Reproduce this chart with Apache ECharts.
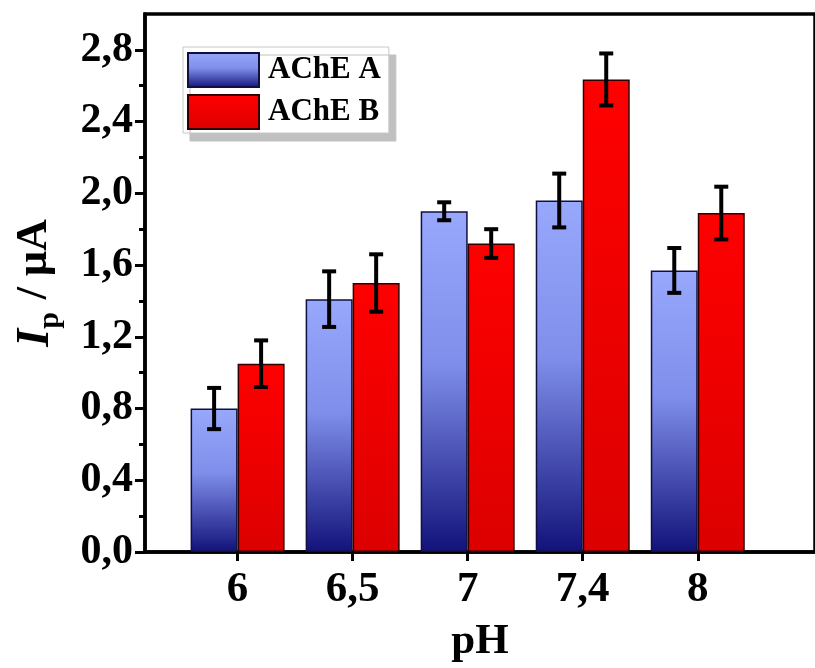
<!DOCTYPE html>
<html><head><meta charset="utf-8">
<script src="https://cdn.jsdelivr.net/npm/echarts@6/dist/echarts.min.js"></script>
<style>html,body{margin:0;padding:0;background:#fff}#c{width:815px;height:668px}</style>
</head><body><div id="c"></div>
<script>
const categories = ['6', '6,5', '7', '7,4', '8'];
const seriesNames = ['AChE A', 'AChE B'];
const valuesA = [0.80, 1.41, 1.90, 1.96, 1.57];
const errorsA = [0.115, 0.155, 0.05, 0.15, 0.125];
const valuesB = [1.05, 1.50, 1.72, 2.635, 1.89];
const errorsB = [0.13, 0.16, 0.08, 0.145, 0.147];
const yMajorTicks = [0, 0.4, 0.8, 1.2, 1.6, 2.0, 2.4, 2.8];
const yMinorTicks = [0.2, 0.6, 1.0, 1.4, 1.8, 2.2, 2.6];

const FONT = '"Liberation Serif", "Times New Roman", serif';
const BAR_W = 47;
const catIdx = categories.map((_, i) => i);

const chart = echarts.init(document.getElementById('c'));

function errRender(offset) {
  return function (params, api) {
    const x = api.value(0), v = api.value(1), e = api.value(2);
    const top = api.coord([x, v + e]);
    const bot = api.coord([x, v - e]);
    const cx = top[0] + offset;
    const cap = 7;
    const style = { stroke: '#000', lineWidth: 4 };
    return {
      type: 'group',
      children: [
        { type: 'line', shape: { x1: cx, y1: top[1], x2: cx, y2: bot[1] }, style },
        { type: 'line', shape: { x1: cx - cap, y1: top[1], x2: cx + cap, y2: top[1] }, style },
        { type: 'line', shape: { x1: cx - cap, y1: bot[1], x2: cx + cap, y2: bot[1] }, style }
      ]
    };
  };
}

const blueGrad = new echarts.graphic.LinearGradient(0, 0, 0, 1, [
  { offset: 0, color: '#98a8fc' },
  { offset: 0.45, color: '#7f8eea' },
  { offset: 1, color: '#12127a' }
]);
const redGrad = new echarts.graphic.LinearGradient(0, 0, 0, 1, [
  { offset: 0, color: '#ff0000' },
  { offset: 1, color: '#dc0000' }
]);

chart.setOption({
  backgroundColor: '#ffffff',
  animation: false,
  grid: {
    left: 145, top: 14, right: -10, bottom: 113,
    show: true, borderColor: '#000', borderWidth: 3.5, backgroundColor: 'transparent'
  },
  legend: {
    orient: 'vertical', left: 183, top: 47,
    icon: 'rect', itemWidth: 71, itemHeight: 34, itemGap: 6,
    padding: [5, 8, 3, 4],
    backgroundColor: '#fff', borderColor: '#c8c8c8', borderWidth: 1,
    shadowColor: '#c0c0c0', shadowBlur: 0, shadowOffsetX: 7, shadowOffsetY: 8,
    textStyle: { fontFamily: FONT, fontWeight: 'bold', fontSize: 31, color: '#000', padding: [0, 0, 0, 4] },
    data: seriesNames
  },
  xAxis: {
    type: 'value', min: -0.805, max: 5.019,
    name: 'pH', nameLocation: 'middle', nameGap: 68,
    nameTextStyle: { fontFamily: FONT, fontWeight: 'bold', fontSize: 43, color: '#000' },
    axisLine: { show: true, onZero: false, lineStyle: { color: '#000', width: 3.5 } },
    axisTick: { show: true, customValues: catIdx, length: 9, lineStyle: { color: '#000', width: 3 } },
    axisLabel: {
      customValues: catIdx, margin: 16,
      formatter: v => categories[Math.round(v)],
      fontFamily: FONT, fontWeight: 'bold', fontSize: 43, color: '#000'
    },
    splitLine: { show: false }
  },
  yAxis: [{
    type: 'value', min: 0, max: 3.0,
    name: '{i|I}{sub|p}{n| / μA}', nameLocation: 'middle', nameGap: 86,
    nameTextStyle: {
      rich: {
        i: { fontFamily: FONT, fontWeight: 'bold', fontStyle: 'italic', fontSize: 46, color: '#000', lineHeight: 46, verticalAlign: 'top' },
        sub: { fontFamily: FONT, fontWeight: 'bold', fontSize: 30, color: '#000', lineHeight: 30, verticalAlign: 'top', padding: [22, 2, 0, 0] },
        n: { fontFamily: FONT, fontWeight: 'bold', fontSize: 44, color: '#000', lineHeight: 46, verticalAlign: 'top' }
      }
    },
    axisLine: { show: true, onZero: false, lineStyle: { color: '#000', width: 3.5 } },
    axisTick: { show: true, customValues: yMajorTicks, length: 10, lineStyle: { color: '#000', width: 3 } },
    axisLabel: {
      customValues: yMajorTicks, margin: 12,
      formatter: v => v.toFixed(1).replace('.', ','),
      fontFamily: FONT, fontWeight: 'bold', fontSize: 42, color: '#000'
    },
    splitLine: { show: false }
  }, {
    type: 'value', min: 0, max: 3.0, position: 'left',
    axisLine: { show: false, onZero: false },
    axisTick: { show: true, customValues: yMinorTicks, length: 6, lineStyle: { color: '#000', width: 3 } },
    axisLabel: { show: false },
    splitLine: { show: false }
  }],
  series: [
    {
      name: seriesNames[0], type: 'bar', barWidth: BAR_W, barGap: '0%',
      itemStyle: { color: blueGrad, borderColor: '#101040', borderWidth: 1.5 },
      data: catIdx.map(i => [i, valuesA[i]]), z: 2
    },
    {
      name: seriesNames[1], type: 'bar', barWidth: BAR_W, barGap: '0%',
      itemStyle: { color: redGrad, borderColor: '#300000', borderWidth: 1.5 },
      data: catIdx.map(i => [i, valuesB[i]]), z: 2
    },
    {
      type: 'custom', renderItem: errRender(-BAR_W / 2), z: 5,
      data: catIdx.map(i => [i, valuesA[i], errorsA[i]]), silent: true
    },
    {
      type: 'custom', renderItem: errRender(BAR_W / 2), z: 5,
      data: catIdx.map(i => [i, valuesB[i], errorsB[i]]), silent: true
    }
  ]
});
</script></body></html>
